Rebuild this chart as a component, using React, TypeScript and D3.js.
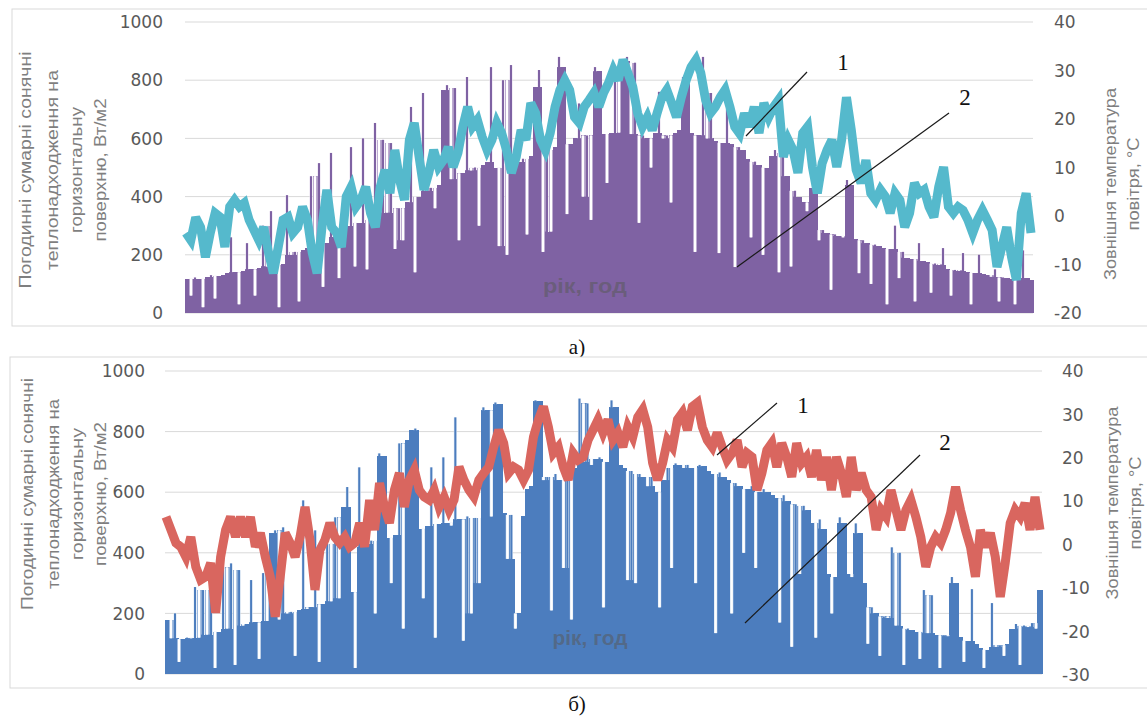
import React from 'react';
import * as d3 from 'd3';

// Chart (а): hourly-summed solar gains (bars, W/m2) and outdoor temperature (°C)
const solarA = [
  118, 60, 122, 118, 20, 125, 130, 50, 128, 132,
  138, 260, 140, 30, 145, 240, 150, 60, 155, 300,
  160, 350, 165, 20, 170, 405, 200, 210, 40, 215,
  222, 470, 230, 515, 90, 240, 550, 262, 120, 280,
  300, 570, 160, 310, 600, 150, 320, 653, 330, 595,
  345, 584, 220, 360, 250, 380, 708, 140, 400, 756,
  420, 430, 360, 440, 766, 783, 460, 773, 250, 480,
  811, 490, 500, 300, 510, 520, 845, 500, 230, 800,
  200, 852, 510, 520, 530, 270, 540, 777, 835, 210,
  560, 280, 570, 880, 845, 340, 580, 600, 720, 400,
  610, 320, 845, 830, 615, 447, 620, 835, 620, 865,
  880, 615, 860, 310, 610, 600, 500, 620, 760, 600,
  610, 380, 620, 630, 811, 790, 620, 210, 610, 880,
  600, 756, 590, 206, 585, 700, 580, 158, 570, 560,
  530, 260, 520, 510, 200, 500, 540, 560, 140, 550,
  470, 160, 420, 400, 380, 350, 430, 433, 250, 285,
  275, 80, 270, 265, 260, 457, 440, 255, 137, 250,
  240, 100, 235, 230, 225, 30, 220, 300, 120, 210,
  190, 185, 40, 240, 180, 175, 70, 170, 165, 223,
  150, 60, 148, 145, 206, 140, 30, 138, 200, 135,
  130, 125, 150, 40, 122, 120, 118, 30, 115, 215, 120, 113,
];

const tempA = [
  -3.5, -5, -0.3, -2.3, -8.5, -3.5, 0.6, -0.2, -6.4, 1.9, 3.3, 1.9, 2.7, -0.8, -2.9, -5, -2.3, -7.6, -11.8, -6.4,
  -0.8, -0.2, -3.5, -2.3, 1.9, -0.8, -7.6, -11.8, -2.3, 5.4, -2.3, -3.5, -6.4, 4, 6, 1.9, 3.3, 6, 0.6, -2.3,
  6, 9.5, 4.7, 13.6, 7.4, 3.3, 15.7, 19.2, 12.2, 5.4, 8.9, 13.6, 10.1, 11.5, 14.2, 10.1, 13, 18.4, 22.5, 18.4,
  19.8, 16.3,
  13.6, 15.7, 19.2, 17.1, 13.6, 8.9, 12.2, 17.7, 15.7, 23.3, 21.2, 15.7, 13.6, 17.1, 22.5, 26, 28, 26, 20.4, 19.2,
  22.5, 23.9, 25.4, 22.5, 25.4, 27.4, 30.1, 28, 32.2, 29.5, 26.6, 21.2, 18.4, 20.4, 17.7, 21.2, 24.5, 26, 23.3, 20.4,
  24.5, 28, 30.7, 32.2, 29.5, 23.9, 21.2, 22.5, 24.5, 26, 22.5, 18.4, 17,
  21.2, 18.4, 22.5, 17.1, 23.3, 20.4, 22.5, 23.9, 12.2, 15.7, 13.6, 8.9, 17.1, 18.4, 10.1, 4.7, 10.9, 13.6, 15.7, 10.1,
  15.7, 24.5, 17.7, 9.5, 6.8, 11.5, 4.7, 3.3, 5.4, 4, 0.6, 4.7, 3.3, -2.3, 0.6, 6.8, 4.7, 5.4, 1.9, -0.2,
  6, 10.1, 1.9, 0.6, 1.9, 1.2, -0.8, -3.5, -0.8, 1.2, -0.8, -2.9, -10.5, -6.4, -2.3, -8.5, -13.2, 0.6, 4.7, -3.5,
];

// Chart (б)
const solarB = [
  178, 118, 200, 40, 115, 120, 118, 287, 120, 277,
  130, 300, 20, 140, 352, 150, 365, 30, 343, 160,
  165, 310, 170, 50, 333, 175, 465, 474, 180, 484,
  200, 205, 60, 210, 573, 215, 220, 474, 40, 230,
  430, 240, 517, 250, 551, 617, 270, 20, 682, 420,
  430, 440, 200, 728, 720, 450, 300, 460, 761, 150,
  771, 804, 810, 480, 250, 490, 682, 120, 495, 715,
  500, 490, 847, 510, 110, 520, 200, 515, 300, 880,
  870, 520, 896, 890, 530, 380, 525, 150, 200, 520,
  610, 620, 903, 900, 640, 650, 210, 660, 640, 350,
  660, 180, 680, 909, 700, 893, 690, 710, 715, 220,
  700, 903, 880, 690, 680, 310, 670, 300, 660, 650,
  620, 650, 600, 220, 640, 680, 350, 695, 690, 680,
  690, 680, 300, 690, 685, 670, 660, 135, 665, 650,
  640, 200, 630, 620, 400, 610, 620, 350, 600, 610,
  600, 590, 580, 170, 590, 570, 90, 560, 330, 555,
  540, 500, 120, 510, 480, 330, 200, 320, 517, 500,
  330, 320, 497, 464, 300, 100, 220, 200, 60, 190,
  185, 418, 160, 400, 30, 150, 145, 140, 50, 277,
  135, 260, 130, 20, 128, 125, 320, 300, 122, 40,
  110, 280, 100, 85, 20, 80, 234, 90, 95, 60,
  100, 150, 165, 30, 160, 155, 168, 150, 277,
];

const tempB = [
  6.4, 3.4, 0.4, -0.5, -2.8, 1.8, -5.1, -8.1, -7.4, -4.2, -15.7, -2.8, 3.4, 6.4, 1.8, 6.4, 1.8, 6.4, -0.5, 2.7,
  -2.8, -7.4, -16.6, -7.4, 2.7, 0.4, -2.8, 1.8, 8.7, 1.1, -10.4, -1.2, 1.1, 5, 1.8, 0.4, 1.8, -0.5, 0.4, 5,
  -0.5, 10.3, 3.4, 14.2, 8.7, 5, 12.6, 16.5, 8.7, 14.9, 17.2, 12.6, 11, 10.3, 12.6, 8.7, 11, 8, 10.3, 17.9,
  14.9, 12.6, 11, 14.9, 16.5, 17.9, 22.5, 26.4, 23.4, 16.5, 17.9, 17.2, 14.9, 17.2, 24.8, 28.8, 31.8, 27.1, 21.1, 22.5,
  17.9, 14.9, 21.1, 19.5, 20.2, 24.1, 26.4, 28.8, 25.8, 28.8, 24.1, 25.8, 22.5, 27.1, 24.8, 29.4, 31.1, 27.1, 18.8, 14.9,
  18.8, 24.1, 22.5, 28.8, 30.4, 26.4, 31.8, 32.7, 27.1, 24.1, 22.5, 25.8, 22.5, 19.5, 21.1, 24.1, 17.9, 21.1,
  20.2, 12.6, 16.5, 21.8, 23.4, 17.9, 23.4, 20.2, 15.6, 23.4, 18.8, 20.2, 15.6, 21.8, 14.9, 20.2, 12.6, 20.2, 16.5, 11,
  20.2, 12.6, 16.5, 12.6, 11, 3.4, 8, 6.4, 12.6, 8, 3.4, 8, 10.3, 6.4, 1.8, -5.1, -0.5, 1.8, 0.4, 3.4,
  7.3, 13.3, 8, 3.4, -0.5, -7.4, 3.4, -0.5, 2.7, -2.8, -12, -4.2, 5, 8, 6.4, 9.6, 3.4, 11, 3.4,
];

const leftTicks = [0, 200, 400, 600, 800, 1000];
const rightTicksA = [-20, -10, 0, 10, 20, 30, 40];
const rightTicksB = [-30, -20, -10, 0, 10, 20, 30, 40];
const leftTitle = ['Погодинні сумарні сонячні', 'теплонадходження на', 'горизонтальну', 'поверхню, Вт/м2'];
const rightTitle = ['Зовнішня температура', 'повітря, °С'];

type Panel = {
  solar: number[];
  temp: number[];
  rightTicks: number[];
  x0: number; x1: number; yTop: number; yBot: number; yBotR: number;
  barColor: string; lightColor: string; lineColor: string;
  leftLabelX: number; rightLabelX: number;
  leftTitleX: number[]; leftTitleLen: number[]; leftTitleCY: number;
  rightTitleX: number[]; rightTitleLen: number[]; rightTitleCY: number;
  frame: [number, number, number, number];
  xLabel: string; xLabelPos: [number, number]; xLabelLen: number;
  caption: string; captionPos: [number, number];
  lead1: [number, number, number, number]; lab1: [number, number];
  lead2: [number, number, number, number]; lab2: [number, number];
};

const panels: Panel[] = [
  {
    solar: solarA, temp: tempA, rightTicks: rightTicksA,
    x0: 185, x1: 1033, yTop: 22, yBot: 313, yBotR: 313,
    barColor: '#7f62a3', lightColor: '#e6dcef', lineColor: '#55b9cc',
    leftLabelX: 163, rightLabelX: 1054,
    leftTitleX: [25, 52, 76, 100], leftTitleLen: [237, 200, 126, 143], leftTitleCY: 170,
    rightTitleX: [1110, 1133], rightTitleLen: [192, 93], rightTitleCY: 184,
    frame: [12, 9, 1145, 317],
    xLabel: 'рік,  год', xLabelPos: [585, 293], xLabelLen: 84,
    caption: 'а)', captionPos: [577, 354],
    lead1: [807, 72, 746, 136], lab1: [843, 70],
    lead2: [949, 113, 737, 267], lab2: [965, 105],
  },
  {
    solar: solarB, temp: tempB, rightTicks: rightTicksB,
    x0: 165, x1: 1042, yTop: 371, yBot: 674, yBotR: 675,
    barColor: '#4c7dbe', lightColor: '#dde8f5', lineColor: '#d9665f',
    leftLabelX: 145, rightLabelX: 1062,
    leftTitleX: [27, 53, 77, 100], leftTitleLen: [232, 190, 132, 144], leftTitleCY: 494,
    rightTitleX: [1112, 1135], rightTitleLen: [193, 93], rightTitleCY: 503,
    frame: [10, 357, 1145, 331],
    xLabel: 'рік, год', xLabelPos: [590, 645], xLabelLen: 75,
    caption: 'б)', captionPos: [577, 711],
    lead1: [777, 403, 717, 455], lab1: [803, 413],
    lead2: [920, 455, 745, 623], lab2: [945, 450],
  },
];

const tickFont = '"DejaVu Sans", sans-serif';
const titleFont = '"Liberation Sans", Arial, sans-serif';
const serif = '"Liberation Serif", "Times New Roman", serif';

function ChartPanel({ p }: { p: Panel }) {
  const n = p.solar.length;
  const x = d3.scaleBand<number>().domain(d3.range(n)).range([p.x0, p.x1]).padding(0);
  const yL = d3.scaleLinear().domain([0, 1000]).range([p.yBot, p.yTop]);
  const rt = p.rightTicks;
  const yR = d3.scaleLinear().domain([rt[0], rt[rt.length - 1]]).range([p.yBotR, p.yTop]);
  const xT = d3.scaleLinear().domain([0, p.temp.length - 1]).range([p.x0 + 1, p.x1 - 2]);
  const line = d3.line<number>().x((_, i) => xT(i)).y((d) => yR(d));
  const bw = x.bandwidth();
  const core = bw * 0.5;
  // each bar: shoulders at the median of itself and its neighbours, its own value in a thin core
  const bars = p.solar.map((v, i) => {
    const l = p.solar[Math.max(0, i - 1)];
    const r = p.solar[Math.min(n - 1, i + 1)];
    const med = d3.median([l, v, r]) as number;
    return { i, v, med };
  });
  return (
    <g>
      <rect x={p.frame[0]} y={p.frame[1]} width={p.frame[2]} height={p.frame[3]} fill="#fff" stroke="#d9d9d9" strokeWidth={1} />
      {leftTicks.map((t) => (
        <line key={'g' + t} x1={p.x0} x2={p.x1} y1={yL(t)} y2={yL(t)} stroke="#d9d9d9" strokeWidth={1} />
      ))}
      <g shapeRendering="crispEdges">
        {bars.map((b) => (
          <rect key={'m' + b.i} x={Math.floor(x(b.i)!)} y={yL(b.med)} width={Math.ceil(bw) + 1} height={p.yBot - yL(b.med)} fill={p.barColor} />
        ))}
      </g>
      <g>
        {bars.map((b) => b.v > b.med ? (
          <g key={'c' + b.i}>
            <rect x={x(b.i)! + (bw - core) / 2 - 0.6} y={yL(b.v)} width={core + 1.2} height={yL(b.med) - yL(b.v)} fill={p.lightColor} opacity={0.8} />
            <rect x={x(b.i)! + (bw - core) / 2} y={yL(b.v)} width={core} height={yL(b.med) - yL(b.v) + 1} fill={p.barColor} />
          </g>
        ) : b.v < b.med ? (
          <g key={'c' + b.i}>
            <rect x={x(b.i)! + (bw - core) / 2 - 0.6} y={yL(b.med)} width={core + 1.2} height={yL(b.v) - yL(b.med)} fill={p.lightColor} />
            <rect x={x(b.i)! + (bw - core) / 2} y={yL(b.med)} width={core} height={yL(b.v) - yL(b.med)} fill="#ffffff" />
          </g>
        ) : null)}
      </g>
      <path d={line(p.temp) || ''} fill="none" stroke={p.lineColor} strokeWidth={9} strokeLinejoin="miter" strokeMiterlimit={3} />
      {leftTicks.map((t) => (
        <text key={'l' + t} x={p.leftLabelX} y={yL(t)} dy="0.36em" textAnchor="end" fontFamily={tickFont} fontSize={17} fill="#595959">{t}</text>
      ))}
      {rt.map((t) => (
        <text key={'r' + t} x={p.rightLabelX} y={yR(t)} dy="0.36em" textAnchor="start" fontFamily={tickFont} fontSize={17} fill="#595959">{t}</text>
      ))}
      {leftTitle.map((s, i) => (
        <text key={'lt' + i} transform={`translate(${p.leftTitleX[i]},${p.leftTitleCY}) rotate(-90)`} textAnchor="middle" dy="0.35em"
          fontFamily={titleFont} fontSize={17} fill="#7f7f7f" textLength={p.leftTitleLen[i]} lengthAdjust="spacingAndGlyphs">{s}</text>
      ))}
      {rightTitle.map((s, i) => (
        <text key={'rt' + i} transform={`translate(${p.rightTitleX[i]},${p.rightTitleCY}) rotate(-90)`} textAnchor="middle" dy="0.35em"
          fontFamily={titleFont} fontSize={17} fill="#7f7f7f" textLength={p.rightTitleLen[i]} lengthAdjust="spacingAndGlyphs">{s}</text>
      ))}
      <text x={p.xLabelPos[0]} y={p.xLabelPos[1]} textAnchor="middle" fontFamily={titleFont} fontSize={20} fontWeight="bold"
        fill="#595959" fillOpacity={0.55} textLength={p.xLabelLen} lengthAdjust="spacingAndGlyphs">{p.xLabel}</text>
      <line x1={p.lead1[0]} y1={p.lead1[1]} x2={p.lead1[2]} y2={p.lead1[3]} stroke="#1a1a1a" strokeWidth={1.2} />
      <line x1={p.lead2[0]} y1={p.lead2[1]} x2={p.lead2[2]} y2={p.lead2[3]} stroke="#1a1a1a" strokeWidth={1.2} />
      <text x={p.lab1[0]} y={p.lab1[1]} textAnchor="middle" fontFamily={serif} fontSize={23} fill="#111">1</text>
      <text x={p.lab2[0]} y={p.lab2[1]} textAnchor="middle" fontFamily={serif} fontSize={23} fill="#111">2</text>
      <text x={p.captionPos[0]} y={p.captionPos[1]} textAnchor="middle" fontFamily={serif} fontSize={21} fill="#111">{p.caption}</text>
    </g>
  );
}

export default function App() {
  return (
    <svg width={1147} height={717} viewBox="0 0 1147 717"
      style={{ position: 'absolute', left: 0, top: 0, background: '#fff', display: 'block' }}>
      <rect x={0} y={0} width={1147} height={717} fill="#fff" />
      {panels.map((p, i) => <ChartPanel key={i} p={p} />)}
    </svg>
  );
}
